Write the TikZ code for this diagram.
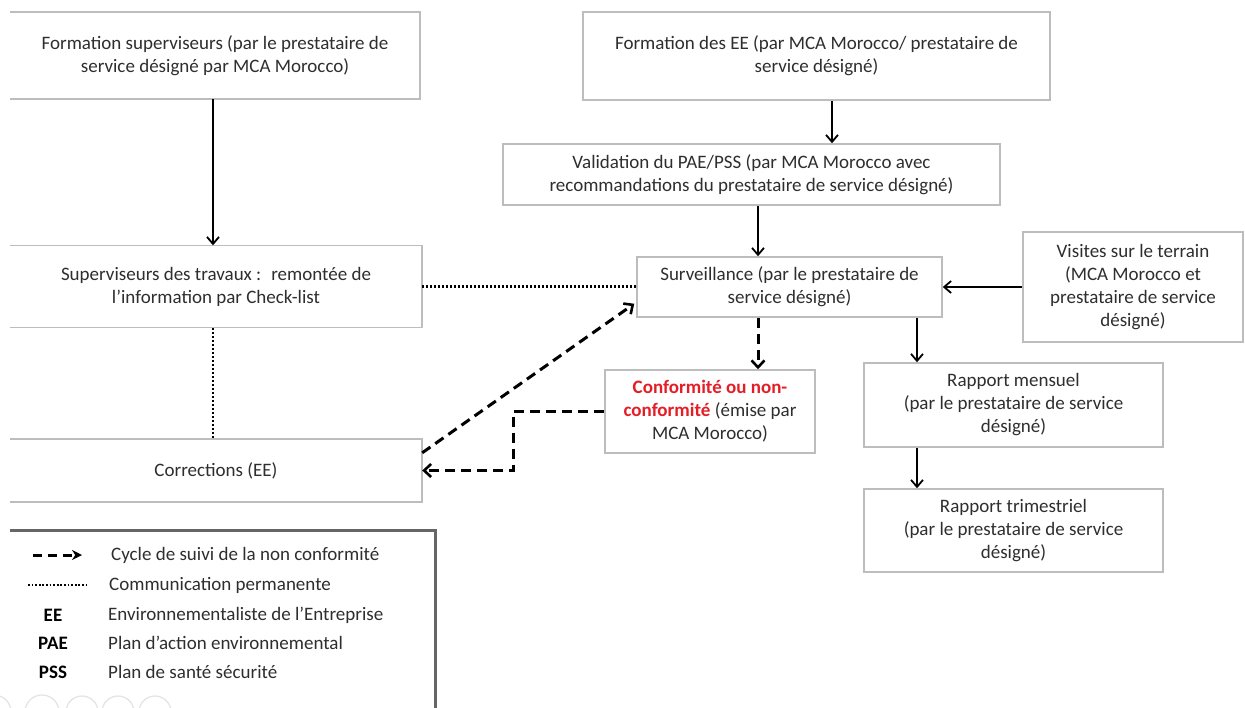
\documentclass[tikz,border=0pt]{standalone}
\usepackage{fontspec}
\setmainfont{Carlito}
\usetikzlibrary{arrows.meta,calc}
\definecolor{txt}{HTML}{2E2E2E}
\definecolor{bord}{HTML}{BDBDBD}
\definecolor{redc}{HTML}{E41E26}
\definecolor{legb}{HTML}{666666}
\begin{document}
\begin{tikzpicture}[x=1pt,y=-1pt,
  box/.style={draw=bord, line width=1.5pt, align=center, text=txt, inner sep=0pt,
    font=\fontsize{19}{23}\selectfont},
  obox/.style={draw=none, align=center, text=txt, inner sep=0pt,
    font=\fontsize{19}{23}\selectfont},
  oline/.style={draw=bord, line width=1.5pt},
  arr/.style={-{Straight Barb[length=7pt,width=12pt,line width=1.8pt]}, line width=1.8pt},
  dasharr/.style={dash pattern=on 10pt off 6pt, line width=3pt,
    -{Straight Barb[length=7pt,width=13pt,line width=2.6pt]}},
  dots/.style={dash pattern=on 2pt off 2pt, line width=2.6pt},
  legtxt/.style={anchor=west, text=txt, inner sep=0pt, font=\fontsize{19}{23}\selectfont},
  legkey/.style={text=black, inner sep=0pt, font=\fontsize{19}{23}\selectfont\bfseries},
  icon/.style={draw=gray!22, line width=1.2pt}]
\useasboundingbox (0,0) rectangle (1245,707);
\fill[white] (0,0) rectangle (1245,707);

% helper coordinates
\coordinate (x213) at (213,0);
\coordinate (x832) at (832,0);
\coordinate (x758) at (758,0);
\coordinate (x917) at (917,0);

% nodes
\node[obox, minimum width=410pt, minimum height=87pt] (fsup) at (215,55.5)
  {Formation superviseurs (par le prestataire de\\service désigné par MCA Morocco)};
\node[box, minimum width=467pt, minimum height=88pt] (fee) at (816.5,56)
  {Formation des EE (par MCA Morocco/ prestataire de\\service désigné)};
\node[box, minimum width=497pt, minimum height=61pt] (val) at (751.5,174.5)
  {Validation du PAE/PSS (par MCA Morocco avec\\recommandations du prestataire de service désigné)};
\node[box, minimum width=305pt, minimum height=60pt] (surv) at (789.5,287)
  {Surveillance (par le prestataire de\\service désigné)};
\node[box, minimum width=220pt, minimum height=110pt] (vis) at (1133,287)
  {Visites sur le terrain\\(MCA Morocco et\\prestataire de service\\désigné)};
\node[obox, minimum width=412pt, minimum height=82pt] (sup) at (216,286.5)
  {Superviseurs des travaux :~ remontée de\\l’information par Check-list};
\node[obox, minimum width=412pt, minimum height=63pt] (corr) at (216,470.5)
  {Corrections (EE)};
\node[box, minimum width=210pt, minimum height=83pt] (conf) at (710,411.5)
  {{\bfseries\color{redc}Conformité ou non-}\\{\bfseries\color{redc}conformité} (émise par\\MCA Morocco)};
\node[box, minimum width=299pt, minimum height=84pt] (rm) at (1013.5,405)
  {Rapport mensuel\\(par le prestataire de service\\désigné)};
\node[box, minimum width=299pt, minimum height=83pt] (rt) at (1013.5,530.5)
  {Rapport trimestriel\\(par le prestataire de service\\désigné)};

% left boxes are cut at the left edge
\foreach \n in {fsup,sup,corr}
  \draw[oline] (\n.north west) -- (\n.north east) -- (\n.south east) -- (\n.south west);

% solid arrows
\draw[arr] (x213 |- fsup.south) -- (x213 |- sup.north);
\draw[arr] (x832 |- fee.south) -- (x832 |- val.north);
\draw[arr] (x758 |- val.south) -- (x758 |- surv.north);
\draw[arr] (vis.west) -- (surv.east);
\draw[arr] (x917 |- surv.south) -- (x917 |- rm.north);
\draw[arr] (x917 |- rm.south) -- (x917 |- rt.north);

% dotted communication
\draw[dots] (sup.east) -- (sup.east -| surv.west);
\draw[dots] (x213 |- sup.south) -- (x213 |- corr.north);

% dashed non-conformity cycle
\draw[dasharr] (x758 |- surv.south) -- (x758 |- conf.north);
\draw[dasharr] (conf.west) -- ++(-91,0) |- (corr.east);
\draw[dasharr] ($(corr.north east)+(0,14)$) -- ($(surv.south west)+(-2,-14)$);

% legend
\draw[legb, line width=3pt] (10,530) -- (435,530) -- (435,712);
\coordinate (la1) at (33,555);
\coordinate (lb1) at (82,555);
\coordinate (la2) at (28,585);
\coordinate (lb2) at (87,585);
\draw[line width=3pt, dash pattern=on 9pt off 6pt,
  -{Stealth[length=10pt,width=10pt]}] (la1) -- (lb1);
\draw[line width=2.4pt, dash pattern=on 1.8pt off 1.8pt] (la2) -- (lb2);
\node[legtxt] (t1) at (111,555) {Cycle de suivi de la non conformité};
\node[legtxt] (t2) at (109,585) {Communication permanente};
\node[legkey] (k3) at (53,615) {EE};
\node[legtxt] (t3) at (108,615) {Environnementaliste de l’Entreprise};
\node[legkey] (k4) at (53,643) {PAE};
\node[legtxt] (t4) at (108,643) {Plan d’action environnemental};
\node[legkey] (k5) at (53,672) {PSS};
\node[legtxt] (t5) at (108,672) {Plan de santé sécurité};

% faint toolbar icons at the bottom
\draw[icon] (-6,712) circle (17);
\draw[icon] (42,712) circle (17);
\draw[icon] (82,712) circle (16);
\draw[icon] (118,712) circle (16);
\draw[icon] (155,712) circle (16);
\end{tikzpicture}
\end{document}
